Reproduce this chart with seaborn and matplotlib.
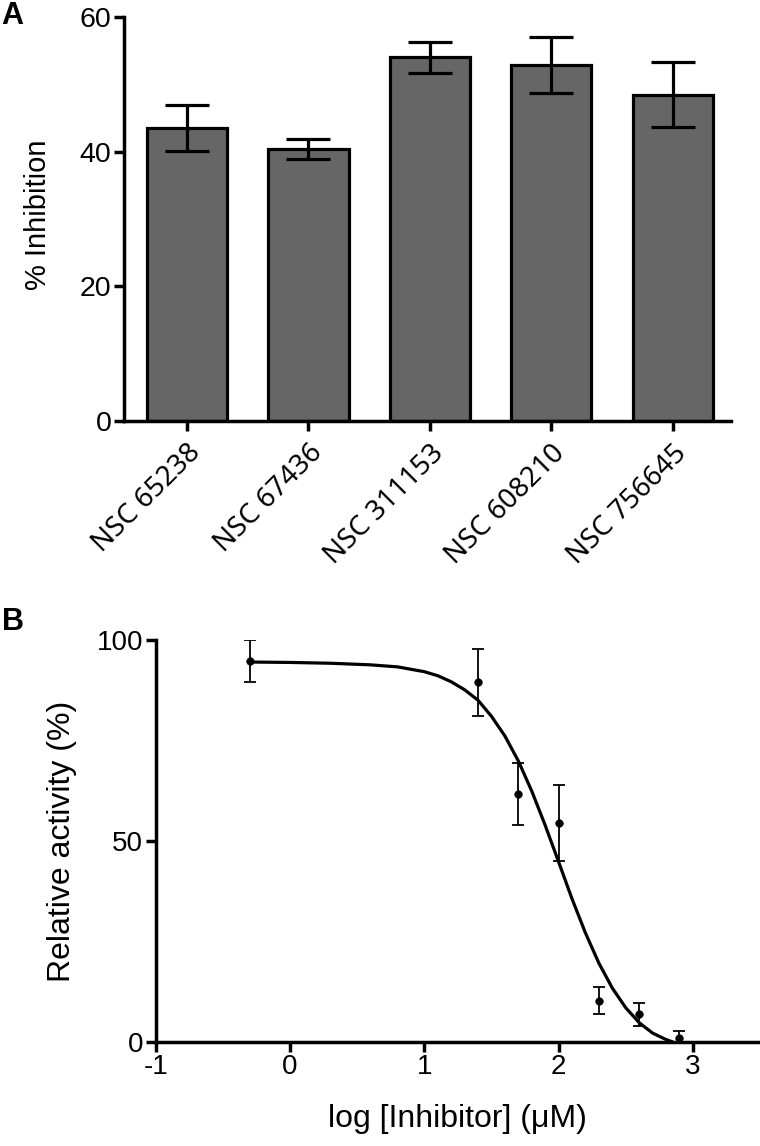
import matplotlib
matplotlib.use("Agg")
import matplotlib.pyplot as plt
import pandas as pd
import seaborn as sns

# Panel A: % inhibition per compound (mean, error)
compounds = ["NSC 65238", "NSC 67436", "NSC 311153", "NSC 608210", "NSC 756645"]
inhibition = [43.5, 40.4, 54.0, 52.9, 48.5]
inhibition_err = [3.4, 1.5, 2.35, 4.2, 4.8]

# Panel B: dose response points
log_conc = [-0.3, 1.4, 1.7, 2.0, 2.3, 2.6, 2.9]
activity = [94.8, 89.5, 61.7, 54.5, 10.3, 6.9, 1.1]
activity_err = [5.3, 8.3, 7.7, 9.5, 3.4, 2.9, 1.6]

# Panel B: fitted curve
curve_x = [-0.3, 0.0, 0.3, 0.6, 0.8, 1.0, 1.1, 1.2, 1.3, 1.4, 1.5, 1.6, 1.7,
           1.8, 1.9, 2.0, 2.1, 2.2, 2.3, 2.4, 2.5, 2.6, 2.7, 2.8, 2.85]
curve_y = [94.5, 94.4, 94.2, 93.8, 93.3, 92.1, 91.1, 89.6, 87.6, 85.0, 81.0,
           76.1, 69.9, 62.4, 53.9, 44.8, 35.6, 27.1, 19.6, 13.4, 8.5, 4.8,
           2.2, 0.6, 0.0]

sns.set_style("ticks")
plt.rcParams["font.family"] = ["Liberation Sans", "DejaVu Sans"]
plt.rcParams["axes.unicode_minus"] = False
for key in ["text.color", "axes.labelcolor", "xtick.color", "ytick.color",
            "axes.edgecolor"]:
    plt.rcParams[key] = "black"

fig = plt.figure(figsize=(7.6, 11.46), dpi=100)

# ---- Panel A ----
axA = fig.add_axes([0.163, 0.6326, 0.799, 0.3525])
df_a = pd.DataFrame({"compound": compounds, "inhibition": inhibition})
sns.barplot(
    data=df_a,
    x="compound",
    y="inhibition",
    color="#666666",
    saturation=1,
    width=0.66,
    edgecolor="black",
    linewidth=2.3,
    errorbar=None,
    ax=axA,
)
axA.errorbar(
    range(len(compounds)),
    inhibition,
    yerr=inhibition_err,
    fmt="none",
    ecolor="black",
    elinewidth=2.3,
    capsize=16,
    capthick=2.3,
    zorder=1,
)
axA.set_xlim(-0.52, 4.48)
axA.set_ylim(0, 60)
axA.set_yticks([0, 20, 40, 60])
axA.set_xlabel("")
axA.set_ylabel("% Inhibition", fontsize=21)
axA.yaxis.set_label_coords(-0.118, 0.51)
axA.tick_params(axis="both", width=2.5, length=7, labelsize=20.5, pad=2)
axA.tick_params(axis="x", pad=6)
for lbl in axA.get_xticklabels():
    lbl.set_rotation(45)
    lbl.set_ha("right")
    lbl.set_rotation_mode("anchor")
    lbl.set_family(["Noto Sans", "DejaVu Sans"])
    lbl.set_style("normal")
    lbl.set_fontsize(20)
for side in ["left", "bottom"]:
    axA.spines[side].set_linewidth(2.5)
sns.despine(ax=axA)

# ---- Panel B ----
axB = fig.add_axes([0.205, 0.0908, 0.795, 0.3508])
df_pts = pd.DataFrame({"log_conc": log_conc, "activity": activity})
df_fit = pd.DataFrame({"x": curve_x, "y": curve_y})
sns.lineplot(data=df_fit, x="x", y="y", color="black", linewidth=2.3,
             sort=False, ax=axB)
axB.errorbar(
    log_conc,
    activity,
    yerr=activity_err,
    fmt="none",
    ecolor="black",
    elinewidth=1.3,
    capsize=4.5,
    capthick=1.3,
)
sns.scatterplot(data=df_pts, x="log_conc", y="activity", color="black",
                s=30, edgecolor="black", ax=axB, zorder=3)
axB.set_xlim(-1, 3.5)
axB.set_ylim(0, 100)
axB.set_xticks([-1, 0, 1, 2, 3])
axB.set_yticks([0, 50, 100])
axB.set_xlabel("log [Inhibitor] (\u03bcM)", fontsize=23)
axB.set_ylabel("Relative activity (%)", fontsize=23)
axB.yaxis.set_label_coords(-0.131, 0.5)
axB.xaxis.set_label_coords(0.5, -0.155)
axB.tick_params(axis="both", width=2.5, length=7, labelsize=20, pad=2)
for side in ["left", "bottom"]:
    axB.spines[side].set_linewidth(2.5)
sns.despine(ax=axB)

fig.text(0.002, 0.999, "A", fontsize=22, fontweight="bold", va="top", ha="left")
fig.text(0.002, 0.470, "B", fontsize=22, fontweight="bold", va="top", ha="left")

fig.savefig("out.png", dpi=100)
